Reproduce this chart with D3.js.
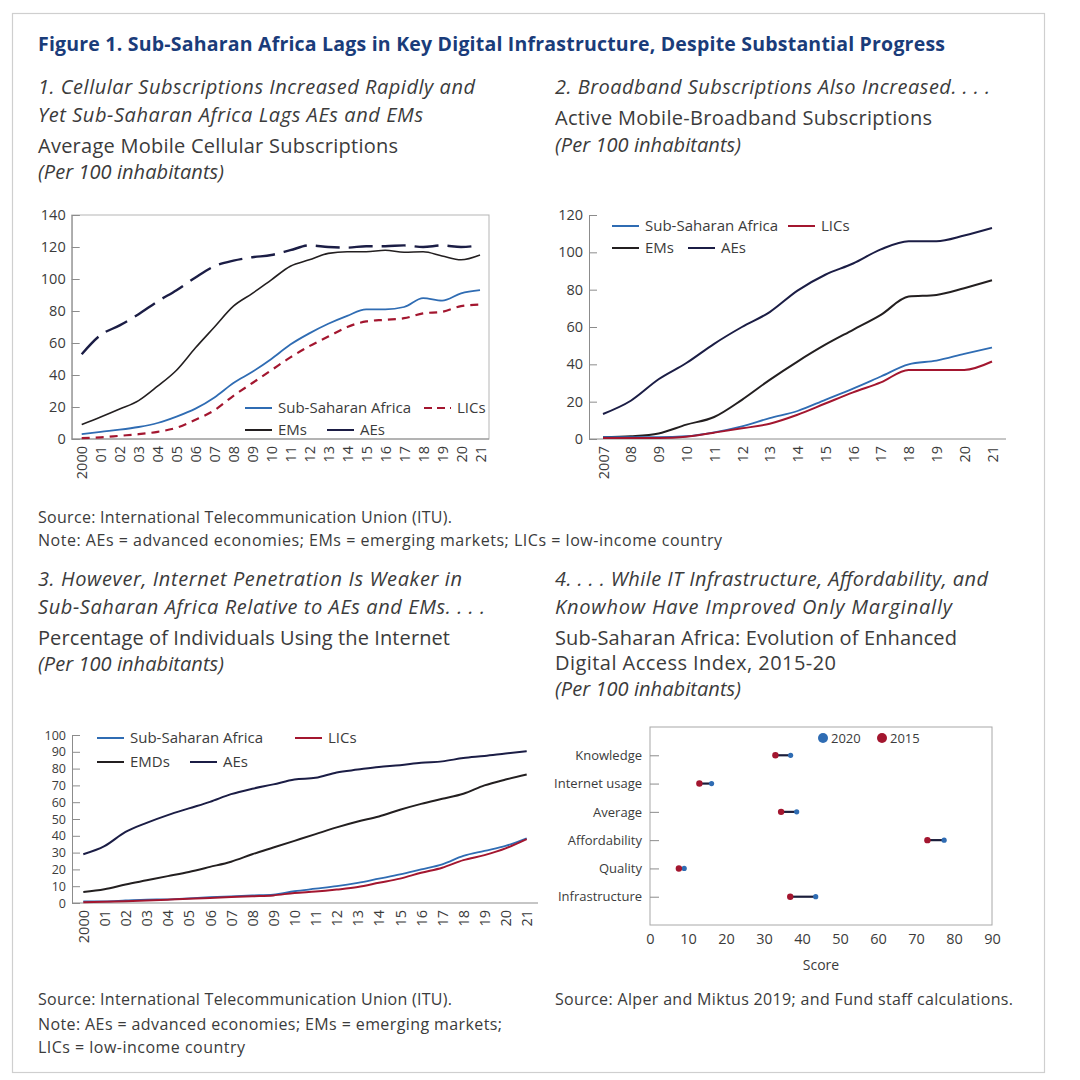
<!DOCTYPE html>
<html>
<head>
<meta charset="utf-8">
<script src="https://cdn.jsdelivr.net/npm/d3@7"></script>
<style>
  body { margin: 0; background: #fff; }
  svg { display: block; font-family: "Open Sans", sans-serif; }
</style>
</head>
<body>
<svg width="1080" height="1080"></svg>
<script>
// ---- data ----
const cellYears = [2000,2001,2002,2003,2004,2005,2006,2007,2008,2009,2010,2011,2012,2013,2014,2015,2016,2017,2018,2019,2020,2021];
const cellTickLabels = ["2000","01","02","03","04","05","06","07","08","09","10","11","12","13","14","15","16","17","18","19","20","21"];
const cellSSA = [3,4.5,5.8,7.5,10,14,19,26,35,42,50,59,66,72,77,81,81,82.5,88,86.5,91,93];
const cellLIC = [0.5,1,2,3,4.5,7,12,18,27,35,43,51,58,64,70,73.5,74.5,75.5,78.5,79.5,83,84];
const cellEM = [9,13.7,18.7,24,33,43,57,70,83,91,99.5,108,112,116,117,117,118,116.7,117,114.4,112,115];
const cellAE = [53,65,71,78,86,93,101,108,111.5,113.6,115,118,121,120,119.6,120.5,120.5,121,120,121,120,121];

const bbYears = [2007,2008,2009,2010,2011,2012,2013,2014,2015,2016,2017,2018,2019,2020,2021];
const bbTickLabels = ["2007","08","09","10","11","12","13","14","15","16","17","18","19","20","21"];
const bbSSA = [1,1,1,1.5,3.6,6.8,11.2,15,21,27,33.5,40,42,45.6,49];
const bbLIC = [0.5,0.5,0.5,1.2,3.4,5.7,8.2,13,19,25,30.3,37,37,37,41.5];
const bbEM = [1,1.5,3,7.7,11.8,21,31.7,41.5,50.5,58.5,66.5,76.3,77.2,80.8,85];
const bbAE = [13.4,20.5,32,40.7,51,60,68,79.5,88,94,101.6,106,106,109,113];

const netYears = cellYears;
const netTickLabels = cellTickLabels;
const netSSA = [1,1,1.5,2,2.2,2.8,3.5,4,4.5,5,7,8.5,10,12,14.5,17,20,23,28,31,34,38.5];
const netLIC = [0.5,0.7,1,1.5,2,2.5,3,3.5,4,4.5,6,6.8,8,9.5,12,14.5,18,21,25.5,28.5,32.5,38];
const netEMD = [6.6,8.2,11,13.5,16,18.5,21.5,24.6,29,33,37,41,45,48.5,51.5,55.5,59,62,65,70,73.5,76.5];
const netAE = [29,33.8,42.3,47.7,52.3,56.3,60.2,64.8,68,70.6,73.5,74.5,77.7,79.4,81,82,83.5,84.3,86.3,87.5,89,90.4];

const edaiCategories = ["Knowledge","Internet usage","Average","Affordability","Quality","Infrastructure"];
const edai2015 = [33,13,34.5,73,7.6,36.9];
const edai2020 = [37,16.2,38.6,77.4,9,43.6];
const edaiTicks = [0,10,20,30,40,50,60,70,80,90];

// ---- colours ----
const BLUE = "#2f6cb3", RED = "#a3162f", BLACK = "#231f20", NAVY = "#1b1d45";
const TXT = "#3b3b3b", AXIS = "#8c8c8c";

const svg = d3.select("svg");
svg.append("rect").attr("width", 1080).attr("height", 1080).attr("fill", "#fff");
svg.append("rect").attr("x", 12.5).attr("y", 13.5).attr("width", 1032).attr("height", 1059)
    .attr("fill", "none").attr("stroke", "#cfcfcf").attr("stroke-width", 1.2);

// ---- texts ----
function textLines(x, lines) {
    lines.forEach(l => {
        const t = svg.append("text").attr("x", x).attr("y", l.y)
            .attr("font-size", l.size || 20)
            .attr("font-style", l.italic ? "italic" : "normal")
            .attr("fill", l.color || TXT)
            .text(l.t);
        if (l.w) t.attr("textLength", l.w).attr("lengthAdjust", "spacing");
    });
}

svg.append("text").attr("x", 38).attr("y", 51)
    .attr("font-size", 19.5).attr("font-weight", 700).attr("fill", "#1a3c7a")
    .attr("textLength", 907).attr("lengthAdjust", "spacing")
    .text("Figure 1. Sub-Saharan Africa Lags in Key Digital Infrastructure, Despite Substantial Progress");

textLines(38, [
    { t: "1. Cellular Subscriptions Increased Rapidly and", y: 94, italic: true, w: 437 },
    { t: "Yet Sub-Saharan Africa Lags AEs and EMs", y: 122, italic: true, w: 385 },
    { t: "Average Mobile Cellular Subscriptions", y: 153, w: 360 },
    { t: "(Per 100 inhabitants)", y: 179, italic: true, w: 186 }
]);
textLines(555, [
    { t: "2. Broadband Subscriptions Also Increased. . . .", y: 94, italic: true, w: 435 },
    { t: "Active Mobile-Broadband Subscriptions", y: 125, w: 377 },
    { t: "(Per 100 inhabitants)", y: 152, italic: true, w: 186 }
]);
textLines(38, [
    { t: "Source: International Telecommunication Union (ITU).", y: 523, size: 16, w: 414 },
    { t: "Note: AEs = advanced economies; EMs = emerging markets; LICs = low-income country", y: 546, size: 16, w: 684 }
]);
textLines(38, [
    { t: "3. However, Internet Penetration Is Weaker in", y: 586, italic: true, w: 424 },
    { t: "Sub-Saharan Africa Relative to AEs and EMs. . . .", y: 614, italic: true, w: 447 },
    { t: "Percentage of Individuals Using the Internet", y: 645, w: 412 },
    { t: "(Per 100 inhabitants)", y: 671, italic: true, w: 186 }
]);
textLines(555, [
    { t: "4. . . . While IT Infrastructure, Affordability, and", y: 586, italic: true, w: 433 },
    { t: "Knowhow Have Improved Only Marginally", y: 614, italic: true, w: 397 },
    { t: "Sub-Saharan Africa: Evolution of Enhanced", y: 645, w: 402 },
    { t: "Digital Access Index, 2015-20", y: 670, w: 281 },
    { t: "(Per 100 inhabitants)", y: 696, italic: true, w: 186 }
]);
textLines(38, [
    { t: "Source: International Telecommunication Union (ITU).", y: 1005, size: 16, w: 414 },
    { t: "Note: AEs = advanced economies; EMs = emerging markets;", y: 1030, size: 16, w: 464 },
    { t: "LICs = low-income country", y: 1053, size: 16, w: 207 }
]);
textLines(555, [
    { t: "Source: Alper and Miktus 2019; and Fund staff calculations.", y: 1005, size: 16, w: 458 }
]);

// ---- line panels ----
function linePanel(cfg) {
    const g = svg.append("g");
    const x = d3.scaleLinear().domain(d3.extent(cfg.years)).range(cfg.xRange);
    const y = d3.scaleLinear().domain(cfg.yDomain).range([cfg.bottom, cfg.top]);

    if (cfg.box) {
        g.append("rect").attr("x", cfg.left).attr("y", cfg.top)
            .attr("width", cfg.right - cfg.left).attr("height", cfg.bottom - cfg.top)
            .attr("fill", "none").attr("stroke", "#b5b5b5").attr("stroke-width", 1);
    }

    const yAxis = g.append("g").attr("transform", `translate(${cfg.left},0)`)
        .call(d3.axisRight(y).tickValues(cfg.yTicks).tickSize(cfg.tickLen).tickFormat(d3.format("d")));
    yAxis.select(".domain").attr("stroke", AXIS);
    yAxis.selectAll(".tick line").attr("stroke", AXIS);
    yAxis.selectAll(".tick text").attr("x", -6).attr("text-anchor", "end")
        .attr("font-size", cfg.yFont || 14.5).attr("fill", TXT).attr("font-family", "Open Sans");

    g.append("line").attr("x1", cfg.left).attr("x2", cfg.right)
        .attr("y1", cfg.bottom).attr("y2", cfg.bottom).attr("stroke", AXIS);

    const xAxis = g.append("g").attr("transform", `translate(0,${cfg.bottom})`)
        .call(d3.axisBottom(x).tickValues(cfg.years).tickSize(0)
            .tickFormat((d, i) => cfg.tickLabels[i]));
    xAxis.select(".domain").remove();
    xAxis.selectAll(".tick text")
        .attr("transform", "rotate(-90)")
        .attr("x", -7).attr("y", 0).attr("dy", "0.35em")
        .attr("text-anchor", "end")
        .attr("font-size", 14.5).attr("fill", TXT).attr("font-family", "Open Sans");

    const line = d3.line().x((d, i) => x(cfg.years[i])).y(d => y(d)).curve(d3.curveMonotoneX);
    cfg.series.forEach(s => {
        g.append("path").datum(s.values).attr("d", line)
            .attr("fill", "none").attr("stroke", s.color)
            .attr("stroke-width", s.width || 1.8)
            .attr("stroke-dasharray", s.dash || null);
    });

    cfg.legend.forEach(l => {
        g.append("line").attr("x1", l.x).attr("x2", l.x + 27).attr("y1", l.y).attr("y2", l.y)
            .attr("stroke", l.color).attr("stroke-width", 2).attr("stroke-dasharray", l.dash || null);
        g.append("text").attr("x", l.x + 33).attr("y", l.y).attr("dy", "0.35em")
            .attr("font-size", 15).attr("fill", TXT).text(l.label);
    });
}

linePanel({
    years: cellYears, tickLabels: cellTickLabels,
    xRange: [81.7, 480], yDomain: [0, 140], yTicks: [0,20,40,60,80,100,120,140],
    left: 71.7, right: 489, top: 215, bottom: 439, tickLen: 8, box: true,
    series: [
        { values: cellAE, color: NAVY, width: 2.4, dash: "24 9" },
        { values: cellEM, color: BLACK, width: 1.6 },
        { values: cellLIC, color: RED, width: 2.2, dash: "8 6" },
        { values: cellSSA, color: BLUE, width: 1.8 }
    ],
    legend: [
        { x: 245, y: 408, color: BLUE, label: "Sub-Saharan Africa" },
        { x: 424, y: 408, color: RED, label: "LICs", dash: "8 5" },
        { x: 245, y: 430, color: BLACK, label: "EMs" },
        { x: 327, y: 430, color: NAVY, label: "AEs" }
    ]
});

linePanel({
    years: bbYears, tickLabels: bbTickLabels,
    xRange: [603, 992], yDomain: [0, 120], yTicks: [0,20,40,60,80,100,120],
    left: 589, right: 1006, top: 215, bottom: 439, tickLen: 8, box: false,
    series: [
        { values: bbAE, color: NAVY, width: 2 },
        { values: bbEM, color: BLACK, width: 2 },
        { values: bbSSA, color: BLUE, width: 1.8 },
        { values: bbLIC, color: RED, width: 2 }
    ],
    legend: [
        { x: 612, y: 226, color: BLUE, label: "Sub-Saharan Africa" },
        { x: 788, y: 226, color: RED, label: "LICs" },
        { x: 612, y: 248, color: BLACK, label: "EMs" },
        { x: 688, y: 248, color: NAVY, label: "AEs" }
    ]
});

linePanel({
    years: netYears, tickLabels: netTickLabels,
    xRange: [83.3, 526.7], yDomain: [0, 100], yTicks: [0,10,20,30,40,50,60,70,80,90,100],
    left: 72, right: 538, top: 735, bottom: 903, tickLen: 8, box: false, yFont: 12.5,
    series: [
        { values: netAE, color: NAVY, width: 2 },
        { values: netEMD, color: BLACK, width: 2 },
        { values: netSSA, color: BLUE, width: 1.8 },
        { values: netLIC, color: RED, width: 2 }
    ],
    legend: [
        { x: 97, y: 738, color: BLUE, label: "Sub-Saharan Africa" },
        { x: 295, y: 738, color: RED, label: "LICs" },
        { x: 97, y: 762, color: BLACK, label: "EMDs" },
        { x: 190, y: 762, color: NAVY, label: "AEs" }
    ]
});

// ---- dumbbell panel ----
(function () {
    const left = 650, right = 992, top = 727, bottom = 925;
    const g = svg.append("g");
    const x = d3.scaleLinear().domain([0, 90]).range([left, right]);
    const y = d3.scalePoint().domain(edaiCategories).range([top, bottom]).padding(1);

    g.append("rect").attr("x", left).attr("y", top).attr("width", right - left).attr("height", bottom - top)
        .attr("fill", "none").attr("stroke", "#a8a8a8");

    const yAxis = g.append("g").attr("transform", `translate(${left},0)`)
        .call(d3.axisRight(y).tickSize(9));
    yAxis.select(".domain").remove();
    yAxis.selectAll(".tick line").attr("stroke", AXIS);
    yAxis.selectAll(".tick text").attr("x", -8).attr("text-anchor", "end")
        .attr("font-size", 13).attr("fill", TXT).attr("font-family", "Open Sans");

    const xAxis = g.append("g").attr("transform", `translate(0,${bottom})`)
        .call(d3.axisBottom(x).tickValues(edaiTicks).tickSize(0).tickPadding(9));
    xAxis.select(".domain").remove();
    xAxis.selectAll(".tick text").attr("font-size", 14.5).attr("fill", TXT).attr("font-family", "Open Sans");

    g.append("text").attr("x", (left + right) / 2).attr("y", 970).attr("text-anchor", "middle")
        .attr("font-size", 14).attr("fill", TXT).text("Score");

    const rows = edaiCategories.map((c, i) => ({ c, a: edai2015[i], b: edai2020[i] }));
    g.selectAll(".seg").data(rows).enter().append("line")
        .attr("x1", d => x(d.a)).attr("x2", d => x(d.b))
        .attr("y1", d => y(d.c)).attr("y2", d => y(d.c))
        .attr("stroke", "#1b1d3a").attr("stroke-width", 2.2);
    g.selectAll(".d20").data(rows).enter().append("circle")
        .attr("cx", d => x(d.b)).attr("cy", d => y(d.c)).attr("r", 2.6).attr("fill", BLUE);
    g.selectAll(".d15").data(rows).enter().append("circle")
        .attr("cx", d => x(d.a)).attr("cy", d => y(d.c)).attr("r", 3.2).attr("fill", RED);

    const leg = [{ label: "2020", color: BLUE, x: 823 }, { label: "2015", color: RED, x: 882 }];
    leg.forEach(l => {
        g.append("circle").attr("cx", l.x).attr("cy", 738).attr("r", 5).attr("fill", l.color);
        g.append("text").attr("x", l.x + 8).attr("y", 738).attr("dy", "0.35em")
            .attr("font-size", 13).attr("fill", TXT).text(l.label);
    });
})();
</script>
</body>
</html>
